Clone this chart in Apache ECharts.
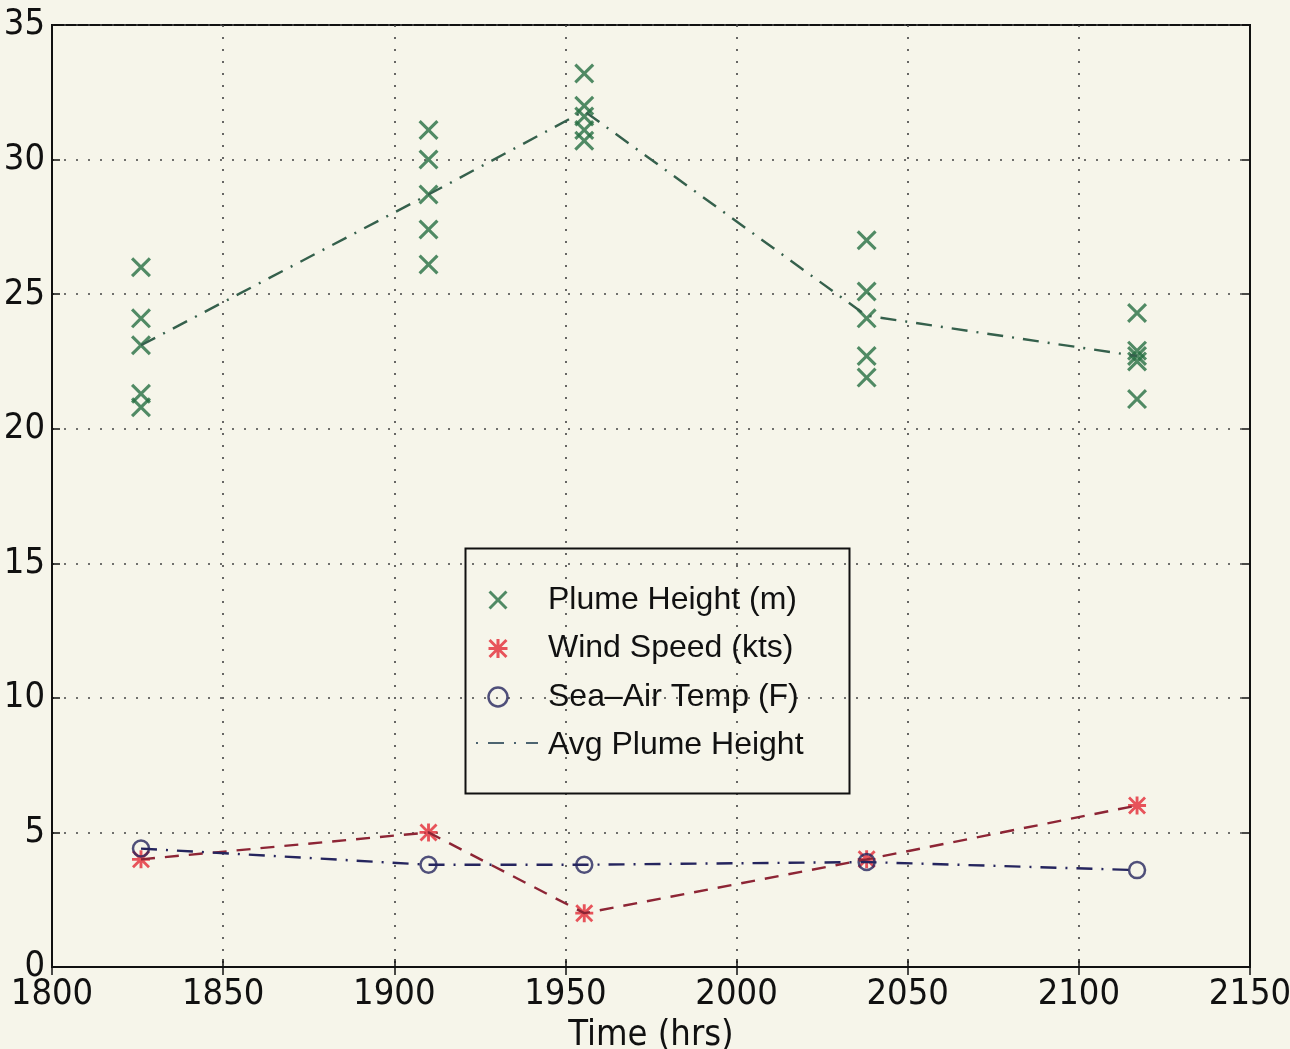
<!DOCTYPE html>
<html>
<head>
<meta charset="utf-8">
<script src="https://cdn.jsdelivr.net/npm/echarts@6/dist/echarts.min.js"></script>
<style>
  html, body { margin: 0; padding: 0; background: #f6f5ea; }
  #chart { width: 1290px; height: 1049px; }
</style>
</head>
<body>
<div id="chart"></div>
<script>
// sample times (hrs)
const times = [1826, 1910, 1955.5, 2038, 2117];
// plume heights (m), five readings per time
const plumeHeights = [
  [26.0, 24.1, 23.1, 21.3, 20.8],
  [31.1, 30.0, 28.7, 27.4, 26.1],
  [33.2, 32.0, 31.6, 31.1, 30.7],
  [27.0, 25.1, 24.1, 22.7, 21.9],
  [24.3, 22.9, 22.7, 22.5, 21.1]
];
const avgPlume = [23.1, 28.7, 31.8, 24.2, 22.7];
const windSpeed = [4, 5, 2, 4, 6];
const seaAirTemp = [4.4, 3.8, 3.8, 3.9, 3.6];
const xTicks = [1800, 1850, 1900, 1950, 2000, 2050, 2100, 2150];

// marker shapes
const xMark = 'path://M0,11 L11,0 L50,39 L89,0 L100,11 L61,50 L100,89 L89,100 L50,61 L11,100 L0,89 L39,50 Z';
const starMark = 'path://M42,0 L58,0 L58,100 L42,100 Z M0,42 L100,42 L100,58 L0,58 Z M0,11 L11,0 L100,89 L89,100 Z M89,0 L100,11 L11,100 L0,89 Z';

const green = '#276f42';
const red = '#e42a36';
const navy = '#25255e';
const narrow = '"Liberation Sans Narrow", "DejaVu Sans Condensed", sans-serif';

const pair = (xs, ys) => xs.map((x, i) => [x, ys[i]]);
const plumePoints = [];
times.forEach((t, i) => plumeHeights[i].forEach(h => plumePoints.push([t, h])));

const chart = echarts.init(document.getElementById('chart'));

const gridLine = { show: true, lineStyle: { color: '#444', width: 1.6, type: [2, 10] } };
const tickIn = { show: true, inside: true, length: 8, lineStyle: { color: '#111', width: 1.5 } };
const plain = v => String(v);

const option = {
  backgroundColor: '#f6f5ea',
  animation: false,
  grid: {
    left: 52, right: 40, top: 25, bottom: 82, outerBoundsMode: 'none', containLabel: false,
    show: true, borderColor: '#111', borderWidth: 2, backgroundColor: 'transparent'
  },
  xAxis: [{
    type: 'value', min: xTicks[0], max: xTicks[xTicks.length - 1], interval: 50,
    name: 'Time (hrs)', nameLocation: 'middle', nameGap: 43,
    nameTextStyle: { fontFamily: narrow, fontSize: 36, color: '#111' },
    axisLine: { show: true, lineStyle: { color: '#111', width: 2 } },
    axisTick: tickIn,
    axisLabel: { fontFamily: narrow, fontSize: 36, color: '#111', margin: 10, formatter: plain },
    splitLine: gridLine
  }, {
    type: 'value', position: 'top', min: xTicks[0], max: xTicks[xTicks.length - 1], interval: 50,
    axisLine: { show: true, lineStyle: { color: '#111', width: 2 } },
    axisTick: tickIn, axisLabel: { show: false }, splitLine: { show: false }
  }],
  yAxis: [{
    type: 'value', min: 0, max: 35, interval: 5,
    axisLine: { show: true, lineStyle: { color: '#111', width: 2 } },
    axisTick: tickIn,
    axisLabel: { fontFamily: narrow, fontSize: 36, color: '#111', margin: 7, formatter: plain },
    splitLine: gridLine
  }, {
    type: 'value', position: 'right', min: 0, max: 35, interval: 5,
    axisLine: { show: true, lineStyle: { color: '#111', width: 2 } },
    axisTick: tickIn, axisLabel: { show: false }, splitLine: { show: false }
  }],
  legend: {
    left: 478, top: 579, orient: 'vertical',
    itemWidth: 30, itemHeight: 19, itemGap: 16.5,
    textStyle: { fontFamily: '"Liberation Sans", Arial, sans-serif', fontSize: 32, color: '#111',
                 lineHeight: 29, padding: [0, 0, 0, 30] },
    data: [
      { name: 'Plume Height (m)', icon: xMark, itemStyle: { color: green } },
      { name: 'Wind Speed (kts)', icon: starMark, itemStyle: { color: red } },
      { name: 'Sea\u2013Air Temp (F)', icon: 'circle',
        itemStyle: { color: 'transparent', borderColor: navy, borderWidth: 2.5 } },
      { name: 'Avg Plume Height', icon: 'none' }
    ]
  },
  graphic: [{
    type: 'rect', left: 463, top: 546, z: 100,
    shape: { width: 384, height: 245 },
    style: { fill: 'none', stroke: '#111', lineWidth: 2 }
  }, {
    // dash-dot sample line for the Avg Plume Height legend entry
    type: 'line', z: 100,
    shape: { x1: 476, y1: 743, x2: 538, y2: 743 },
    style: { stroke: '#4d6470', lineWidth: 2, lineDash: [2, 10, 16, 10] }
  }],
  series: [
    {
      name: 'Avg Plume Height', type: 'line', data: pair(times, avgPlume),
      symbol: 'none', itemStyle: { color: '#35604c' },
      lineStyle: { color: '#35604c', width: 2.4, type: [16, 9, 2, 9] }
    },
    {
      name: 'wind line', type: 'line', data: pair(times, windSpeed),
      symbol: 'none', lineStyle: { color: '#8d2535', width: 2.4, type: [14, 10] }
    },
    {
      name: 'sea line', type: 'line', data: pair(times, seaAirTemp),
      symbol: 'none', lineStyle: { color: navy, width: 2.4, type: [16, 9, 2, 9] }
    },
    {
      name: 'Plume Height (m)', type: 'scatter', data: plumePoints,
      symbol: xMark, symbolSize: 20, itemStyle: { color: green }
    },
    {
      name: 'Wind Speed (kts)', type: 'scatter', data: pair(times, windSpeed),
      symbol: starMark, symbolSize: 18, itemStyle: { color: red }
    },
    {
      name: 'Sea\u2013Air Temp (F)', type: 'scatter', data: pair(times, seaAirTemp),
      symbol: 'circle', symbolSize: 16,
      itemStyle: { color: 'transparent', borderColor: navy, borderWidth: 2.5 }
    }
  ]
};

chart.setOption(option);
</script>
</body>
</html>
